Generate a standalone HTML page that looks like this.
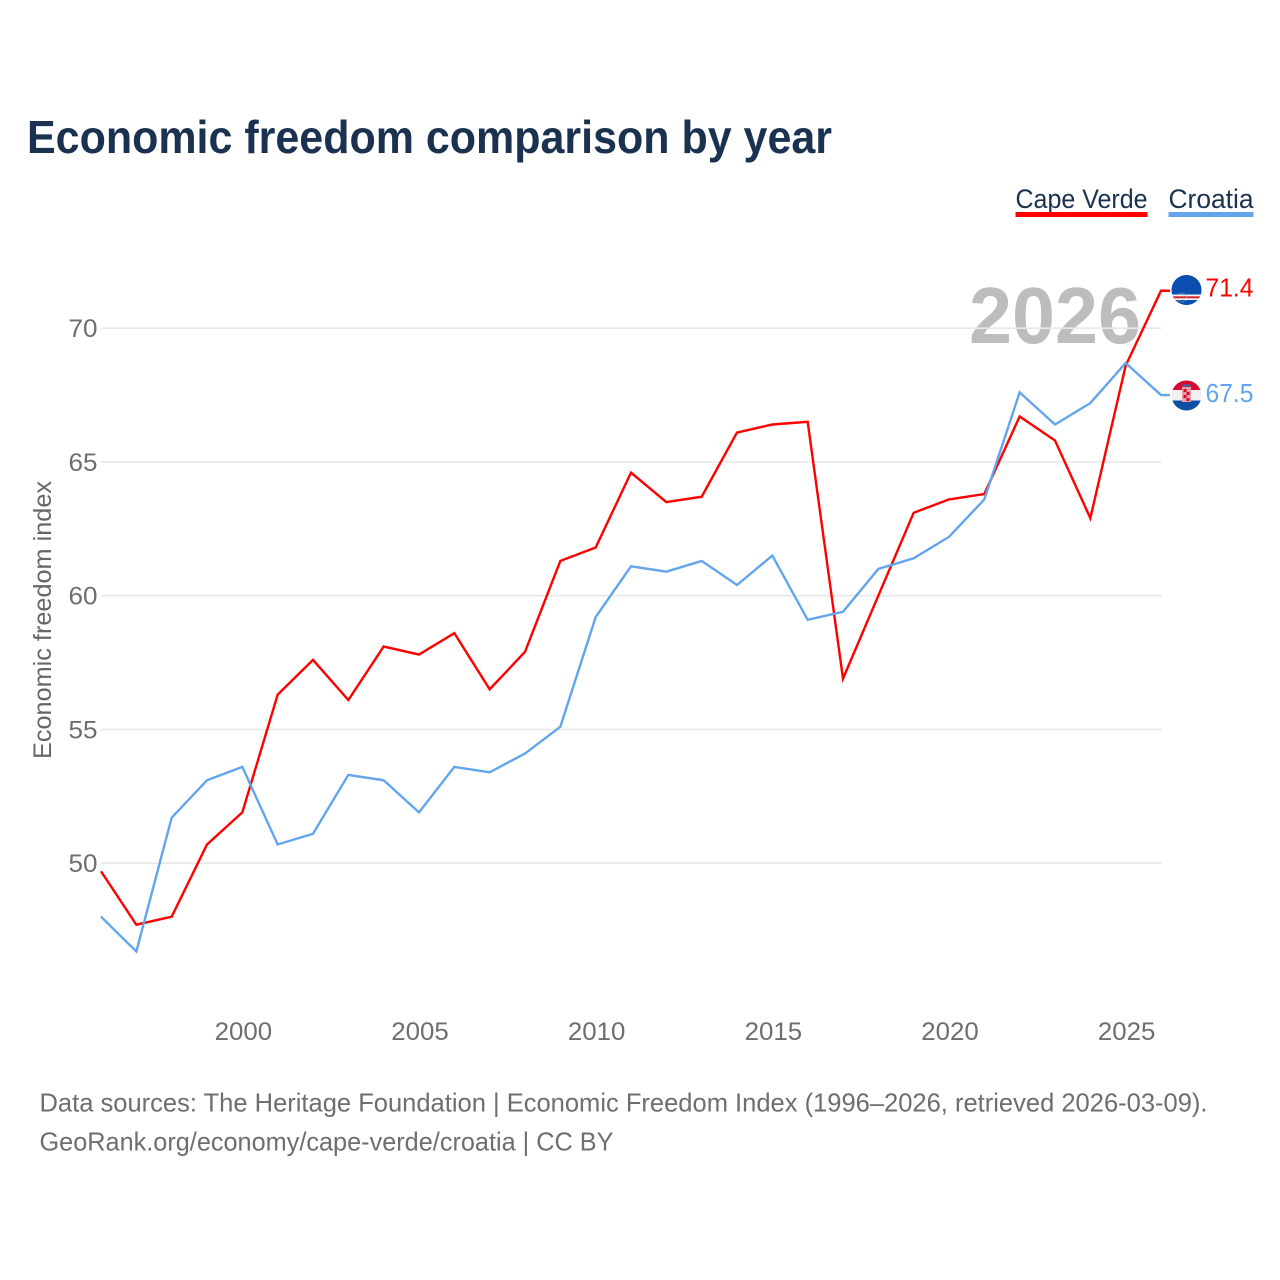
<!DOCTYPE html>
<html>
<head>
<meta charset="utf-8">
<title>Economic freedom comparison by year</title>
<style>
html,body{margin:0;padding:0;background:#fff;width:1280px;height:1280px;overflow:hidden}
svg{display:block;font-family:"Liberation Sans",sans-serif}
</style>
</head>
<body>
<svg id="chart" width="1280" height="1280" viewBox="0 0 1280 1280" xmlns="http://www.w3.org/2000/svg">
<rect width="1280" height="1280" fill="#fff"/>
<text x="27" y="153" font-size="46" font-weight="700" fill="#1a3150" textLength="805" lengthAdjust="spacingAndGlyphs">Economic freedom comparison by year</text>
<g>
<text x="1015.5" y="208" font-size="27" fill="#1a3150" textLength="132" lengthAdjust="spacingAndGlyphs">Cape Verde</text>
<rect x="1015.5" y="212" width="132" height="5" fill="#ff0000"/>
</g>
<g>
<text x="1168.5" y="208" font-size="27" fill="#1a3150" textLength="85" lengthAdjust="spacingAndGlyphs">Croatia</text>
<rect x="1168.5" y="212" width="85" height="5" fill="#62a5ec"/>
</g>
<text x="969" y="343" font-size="80" font-weight="700" fill="#bdbdbd" textLength="172" lengthAdjust="spacingAndGlyphs">2026</text>
<g id="grid"></g>
<g id="yticks"></g>
<g id="xticks"></g>
<text transform="translate(51,759) rotate(-90)" font-size="25" fill="#666" textLength="278" lengthAdjust="spacingAndGlyphs">Economic freedom index</text>
<g id="series"></g>
<defs>
<clipPath id="flag-cv"><circle cx="1186.5" cy="290" r="15"/></clipPath>
<clipPath id="flag-hr"><circle cx="1186.5" cy="395.5" r="15"/></clipPath>
</defs>
<g clip-path="url(#flag-cv)">
<rect x="1171" y="275" width="31" height="31" fill="#0a4fb0"/>
<rect x="1171" y="294.5" width="31" height="5.5" fill="#f2f2f2"/>
<rect x="1171" y="296.3" width="31" height="2" fill="#d8232f"/>
<circle cx="1182" cy="297.5" r="4.5" fill="none" stroke="#c9b26a" stroke-width="1" stroke-dasharray="1 1.5"/>
</g>
<g clip-path="url(#flag-hr)">
<rect x="1171" y="380" width="31" height="10" fill="#d9092f"/>
<rect x="1171" y="390" width="31" height="10.5" fill="#f0f0f0"/>
<rect x="1171" y="400.5" width="31" height="11" fill="#0b4ea2"/>
<rect x="1182" y="387" width="9" height="15" fill="#e8a0a8"/>
<rect x="1183.5" y="389" width="3" height="3" fill="#d9092f"/>
<rect x="1186.5" y="392" width="3" height="3" fill="#d9092f"/>
<rect x="1183.5" y="395" width="3" height="3" fill="#d9092f"/>
<rect x="1186.5" y="398" width="3" height="3" fill="#d9092f"/>
<rect x="1182.5" y="384.5" width="8" height="2" fill="#3a6bb5"/>
</g>
<text x="1205.5" y="296.5" font-size="26" fill="#ff0000" textLength="48" lengthAdjust="spacingAndGlyphs">71.4</text>
<text x="1205.5" y="402" font-size="26" fill="#62a5ec" textLength="48" lengthAdjust="spacingAndGlyphs">67.5</text>
<text x="39.5" y="1111.5" font-size="26" fill="#6e6e6e" textLength="1168" lengthAdjust="spacingAndGlyphs">Data sources: The Heritage Foundation | Economic Freedom Index (1996–2026, retrieved 2026-03-09).</text>
<text x="39.5" y="1150.5" font-size="26" fill="#6e6e6e" textLength="574" lengthAdjust="spacingAndGlyphs">GeoRank.org/economy/cape-verde/croatia | CC BY</text>
</svg>
<script>
const years = [1996,1997,1998,1999,2000,2001,2002,2003,2004,2005,2006,2007,2008,2009,2010,2011,2012,2013,2014,2015,2016,2017,2018,2019,2020,2021,2022,2023,2024,2025,2026];
const capeVerde = [49.7,47.7,48.0,50.7,51.9,56.3,57.6,56.1,58.1,57.8,58.6,56.5,57.9,61.3,61.8,64.6,63.5,63.7,66.1,66.4,66.5,56.9,60.0,63.1,63.6,63.8,66.7,65.8,62.9,68.6,71.4];
const croatia = [48.0,46.7,51.7,53.1,53.6,50.7,51.1,53.3,53.1,51.9,53.6,53.4,54.1,55.1,59.2,61.1,60.9,61.3,60.4,61.5,59.1,59.4,61.0,61.4,62.2,63.6,67.6,66.4,67.2,68.7,67.5];
const yTickValues = [50,55,60,65,70];
const xTickValues = [2000,2005,2010,2015,2020,2025];

const NS = 'http://www.w3.org/2000/svg';
function xScale(year){ return 101 + (year - 1996) * (1161 - 101) / 30; }
function yScale(v){ return 863.2 - (v - 50) * 26.75; }
function make(tag, attrs, parent){
  const el = document.createElementNS(NS, tag);
  for (const k in attrs) el.setAttribute(k, attrs[k]);
  parent.appendChild(el);
  return el;
}
const grid = document.getElementById('grid');
const yticks = document.getElementById('yticks');
const xticks = document.getElementById('xticks');
const seriesGroup = document.getElementById('series');

yTickValues.forEach(function(v){
  const line = make('line', {x1:101, x2:1161.5, y1:yScale(v), y2:yScale(v), stroke:'#e8e8e8', 'stroke-width':1.6}, grid);
  
  
  const t = make('text', {x:97.5, y:yScale(v) + 9, 'font-size':25, fill:'#6e6e6e', 'text-anchor':'end', textLength:29, lengthAdjust:'spacingAndGlyphs'}, yticks);
  
  
  t.textContent = v;
});
xTickValues.forEach(function(y){
  const t = make('text', {x:xScale(y) + 1, y:1040, 'font-size':25, fill:'#6e6e6e', 'text-anchor':'middle', textLength:57.5, lengthAdjust:'spacingAndGlyphs'}, xticks);
  
  
  t.textContent = y;
});
function drawSeries(values, color, name){
  const pts = values.map(function(v, i){ return xScale(years[i]) + ',' + yScale(v); });
  const last = values[values.length - 1];
  pts.push((xScale(years[years.length - 1]) + 9) + ',' + yScale(last));
  const line = make('polyline', {points:pts.join(' '), fill:'none', stroke:color, 'stroke-width':2.4, 'stroke-linejoin':'miter'}, seriesGroup);
  
  
}
drawSeries(capeVerde, '#ff0000', 'line-cape-verde');
drawSeries(croatia, '#62a5ec', 'line-croatia');
</script>
</body>
</html>
